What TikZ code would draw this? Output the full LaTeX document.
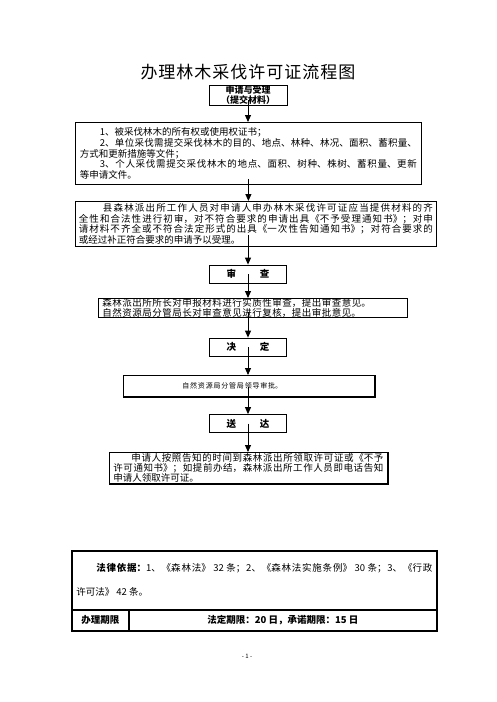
\documentclass[tikz,border=0pt]{standalone}
\usepackage{fontspec}
\setmainfont{Noto Sans CJK SC}
\usetikzlibrary{arrows.meta,calc}
\XeTeXlinebreaklocale "zh"
\XeTeXlinebreakskip=0pt plus 2pt
\setlength\parindent{0pt}
\newcommand\bodyfont{\fontsize{9.5}{10.6}\selectfont}
\begin{document}
\begin{tikzpicture}[x=1pt,y=-1pt,
  box/.style={draw,line width=0.8pt,inner sep=0pt},
  tabbox/.style={draw,line width=1.6pt,inner sep=0pt},
  headbox/.style={box,minimum width=77,minimum height=18,font=\bfseries\fontsize{9.5}{10}\selectfont},
  conn/.style={line width=0.9pt,-{Triangle[length=7pt,width=6pt]}},
  thickedge/.style={line width=1.8pt}]
\useasboundingbox[fill=white] (0,0) rectangle (496,702);

\node[font=\fontsize{17}{17}\selectfont,text width=300,align=center,inner sep=0pt] (title) at (248,72)
  {\XeTeXlinebreakskip=1pt 办理林木采伐许可证流程图};

\node[box,minimum width=78,minimum height=20,align=center,font=\bfseries\fontsize{9}{9.6}\selectfont] (n1) at (248,95)
  {申请与受理\\（提交材料）};

\node[box,anchor=north west,text width=337,inner xsep=4.5,minimum height=62,align=justify,font=\bodyfont] (n2) at (75,122)
  {\hspace*{20pt}1、被采伐林木的所有权或使用权证书；\par
\hspace*{20pt}2、单位采伐需提交采伐林木的目的、地点、林种、林况、面积、蓄积量、\linebreak 方式和更新措施等文件；\par
\hspace*{20pt}3、个人采伐需提交采伐林木的地点、面积、树种、株树、蓄积量、更新\linebreak 等申请文件。};

\node[box,anchor=north west,text width=354,inner xsep=3.5,minimum height=45,align=justify,font=\bodyfont] (n3) at (75,201)
  {\hspace*{24pt}县森林派出所工作人员对申请人申办林木采伐许可证应当提供材料的齐\linebreak 全性和合法性进行初审，对不符合要求的申请出具《不予受理通知书》；对申\linebreak 请材料不齐全或不符合法定形式的出具《一次性告知通知书》；对符合要求的\linebreak 或经过补正符合要求的申请予以受理。};

\node[headbox] (n4) at (248,274) {审\hspace{24pt}查};

\node[box,anchor=north west,text width=301,inner xsep=4,minimum height=19,align=left,font=\fontsize{9.5}{9.5}\selectfont] (n5) at (98,298)
  {\XeTeXlinebreakskip=0.5pt 森林派出所所长对申报材料进行实质性审查，提出审查意见。\\自然资源局分管局长对审查意见进行复核，提出审批意见。};

\node[headbox] (n6) at (248,347) {决\hspace{24pt}定};

\node[box,anchor=north west,text width=251,inner xsep=0,minimum height=21,align=left,font=\fontsize{7}{8}\selectfont] (n7) at (123,375)
  {\XeTeXlinebreakskip=0.8pt \hspace*{59pt}自然资源局分管局领导审批。};
\draw[thickedge] (n7.north east) -- (n7.south east) -- (n7.south west);

\node[headbox] (n8) at (248,423.5) {送\hspace{24pt}达};

\node[box,anchor=north west,text width=270,inner xsep=4,minimum height=31,align=justify,font=\fontsize{9.5}{10}\selectfont] (n9) at (109,452)
  {\hspace*{18pt}申请人按照告知的时间到森林派出所领取许可证或《不予\linebreak 许可通知书》；如提前办结，森林派出所工作人员即电话告知\linebreak 申请人领取许可证。};
\draw[thickedge] (n9.north east) -- (n9.south east) -- (n9.south west);

\draw[conn] ($(n1.south)+(0,-5)$) -- (n1.south |- n2.north);
\draw[conn] ($(n2.south)+(0,-6)$) -- (n2.south |- n3.north);
\draw[conn] ($(n4.north |- n3.south)+(0,-12)$) -- (n4.north);
\draw[conn] (n4.center) -- (n4.center |- n5.north);
\draw[conn] ($(n6.north |- n5.south)+(0,-6)$) -- (n6.north);
\draw[conn] (n6.center) -- (n6.center |- n7.north);
\draw[conn] ($(n8.north |- n7.south)+(0,-10)$) -- (n8.north);
\draw[conn] (n8.center) -- (n8.center |- n9.north);

\node[tabbox,anchor=north west,text width=356,inner xsep=4.5,minimum height=59,align=justify,font=\fontsize{9.5}{24}\selectfont] (t1) at (71,550)
  {\hspace*{20pt}\textbf{法律依据：}1、《森林法》 32 条；2、《森林法实施条例》 30 条；3、《行政\linebreak 许可法》 42 条。};
\node[tabbox,anchor=north west,minimum width=57,minimum height=21,font=\bfseries\fontsize{9.5}{10}\selectfont] (t2) at (71,609) {办理期限};
\node[tabbox,anchor=north west,minimum width=308,minimum height=21,font=\bfseries\fontsize{9.5}{10}\selectfont] (t3) at (128,609) {法定期限：20 日，承诺期限：15 日};

\node[font=\fontsize{6}{6}\selectfont,inner sep=0pt] (pg) at (247,656) {- 1 -};
\end{tikzpicture}
\end{document}
